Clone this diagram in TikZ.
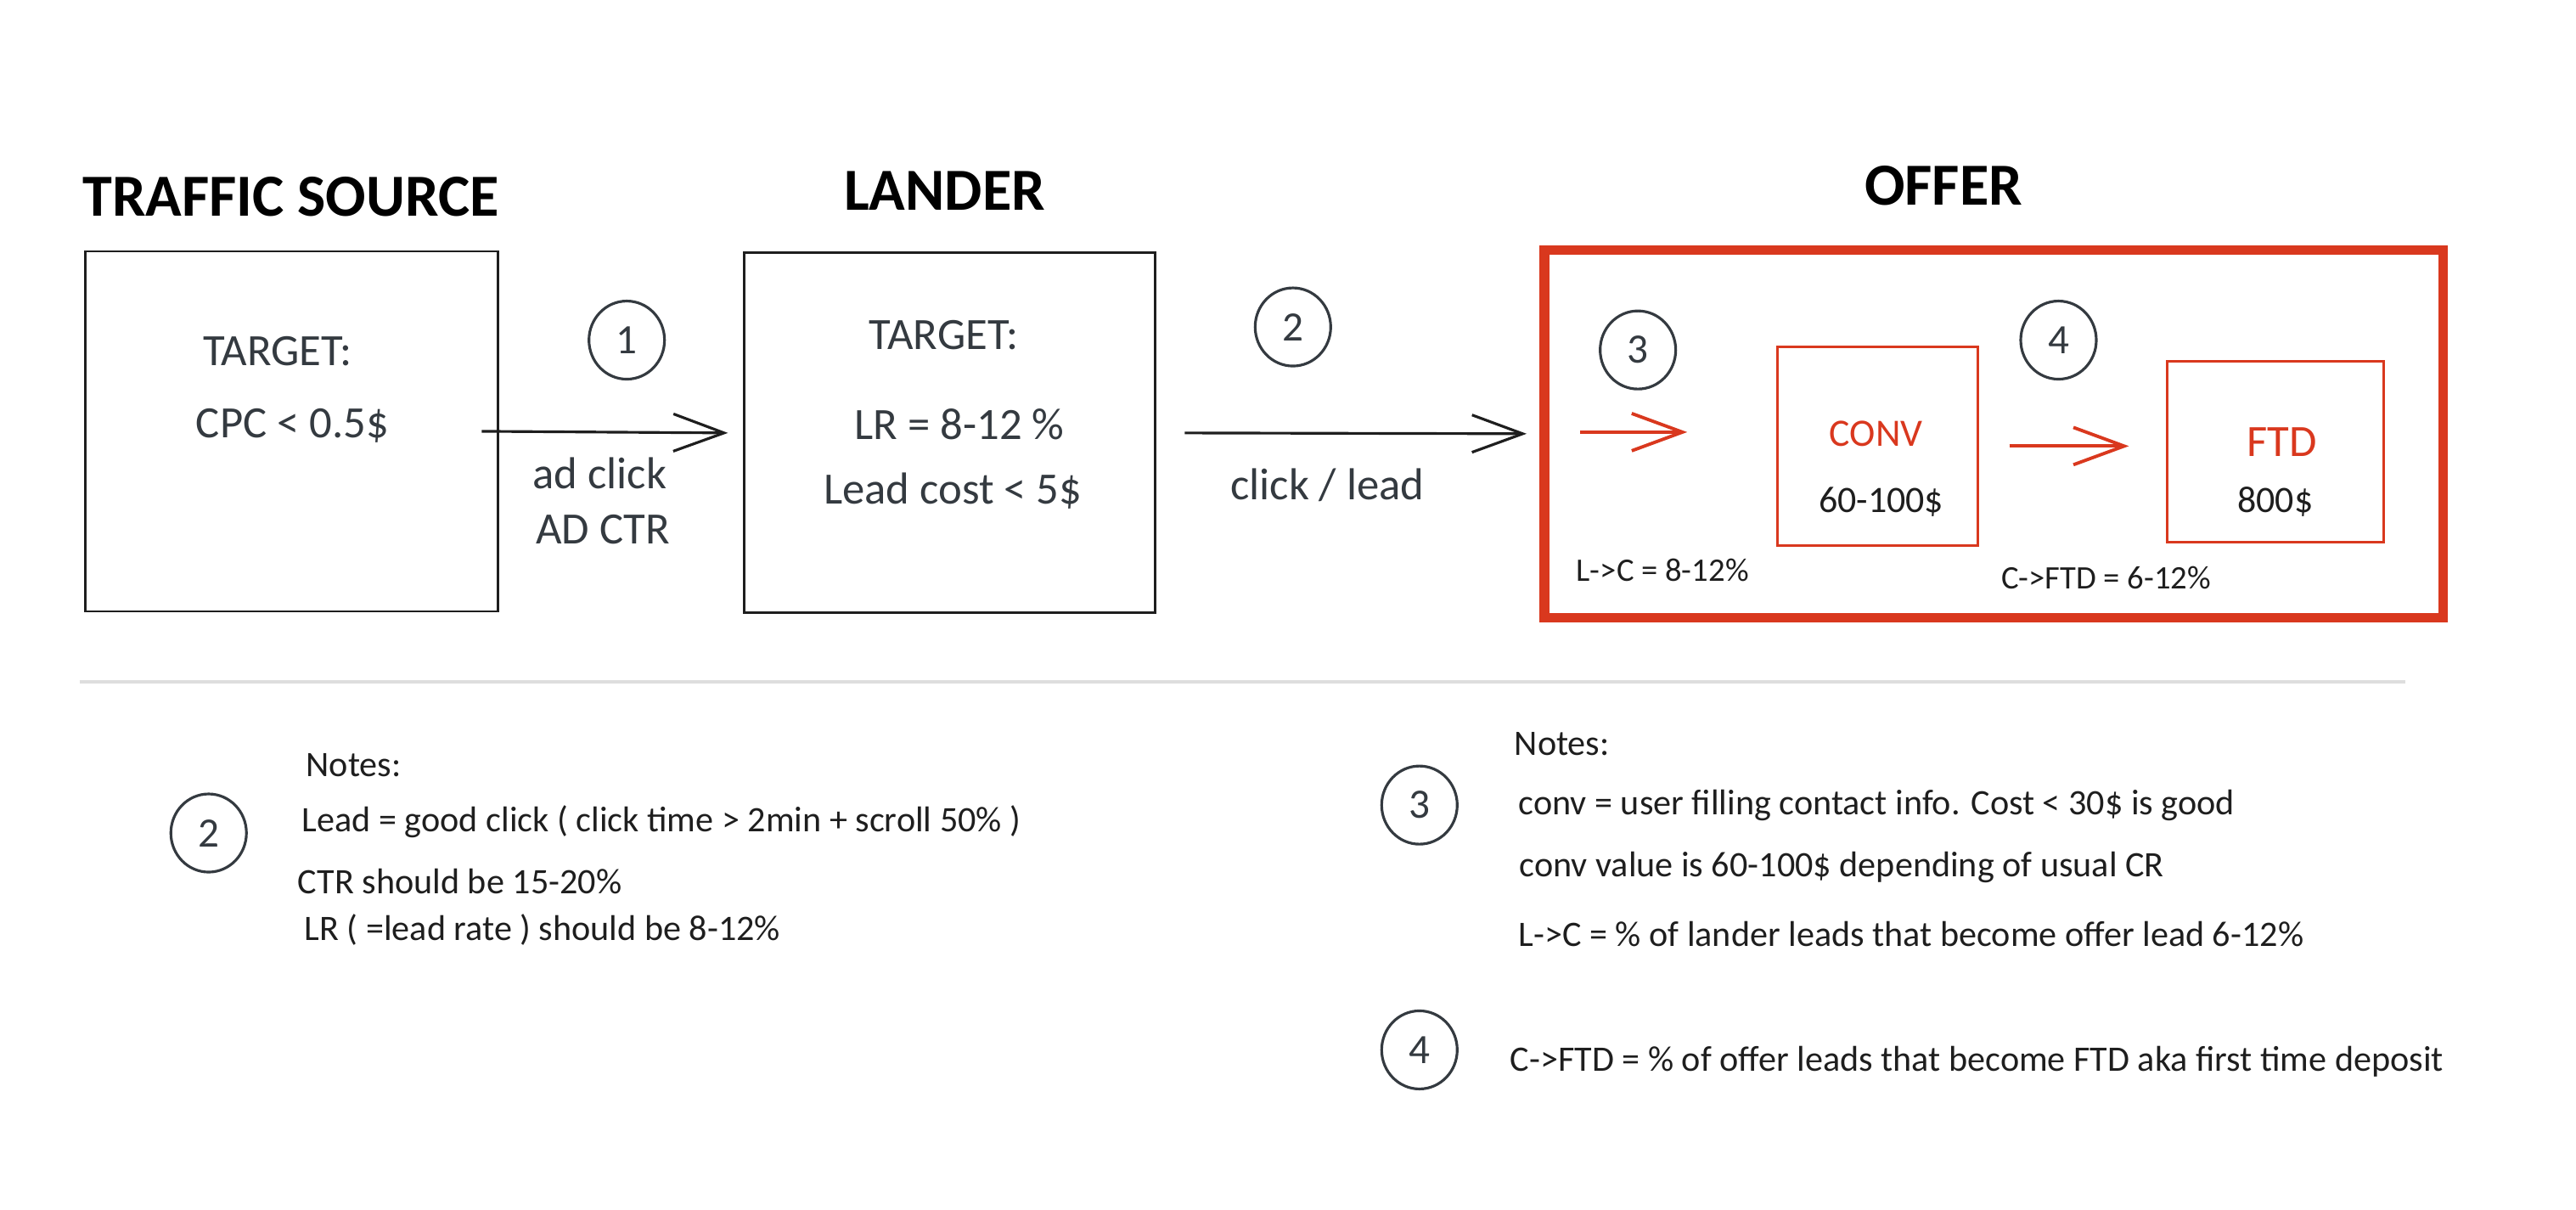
\documentclass[tikz,border=0pt]{standalone}
\usepackage{fontspec}
\setmainfont{Carlito}
\usetikzlibrary{arrows.meta}
\usetikzlibrary{shapes.geometric}
\definecolor{offerred}{HTML}{D9381E}
\definecolor{ink}{HTML}{1E1E1E}
\definecolor{pencil}{HTML}{343A40}
\definecolor{rulegray}{HTML}{DEDEDE}

\begin{document}
\begin{tikzpicture}[x=0.01935cm, y=-0.01935cm,
    >={Straight Barb[length=17pt,width=12.5pt]},
    title/.style={inner sep=0, text=black, font=\fontsize{20}{24}\selectfont\bfseries},
    big/.style={inner sep=0, text=pencil, font=\fontsize{15}{18}\selectfont},
    small/.style={inner sep=0, text=ink, font=\fontsize{12}{14}\selectfont},
    note/.style={inner sep=0, anchor=west, text=ink, font=\fontsize{12}{14}\selectfont},
    stage/.style={draw=ink, line width=0.8pt, inner sep=0, outer sep=0},
    offerbox/.style={draw=offerred, line width=3.2pt, inner sep=0, outer sep=0},
    subbox/.style={draw=offerred, line width=0.8pt, inner sep=0, outer sep=0},
    num/.style={ellipse, draw=pencil, line width=0.9pt, inner sep=0,
        minimum width=0.89cm, minimum height=0.92cm, text=pencil,
        font=\fontsize{14}{16}\selectfont},
    flow/.style={->, draw=ink, line width=0.9pt},
    redflow/.style={->, draw=offerred, line width=1.1pt}]

    \useasboundingbox (0,0) rectangle (1568,736);

    % titles
    \node[title] (srcTitle) at (177,120) {TRAFFIC SOURCE};
    \node[title] (landTitle) at (575,116) {LANDER};
    \node[title] (offTitle) at (1183,113) {OFFER};

    % boxes
    \node[stage, minimum width=4.86cm, minimum height=4.24cm] (source) at (177.5,262.5) {};
    \node[stage, minimum width=4.84cm, minimum height=4.24cm] (lander) at (578,263.5) {};
    \node[offerbox, minimum width=10.58cm, minimum height=4.33cm] (offer) at (1213.5,264) {};
    \node[subbox, minimum width=2.36cm, minimum height=2.34cm] (conv) at (1143,271.5) {};
    \node[subbox, minimum width=2.55cm, minimum height=2.13cm] (ftd) at (1385,275) {};

    \node[big] (srcTarget) at (169,214) {TARGET:};
    \node[big] (srcCpc) at (178,259) {CPC < 0.5\$};
    \node[big] (landTarget) at (574.5,204) {TARGET:};
    \node[big] (landLr) at (584,258) {LR = 8-12 \%};
    \node[big] (landCost) at (580,299) {Lead cost < 5\$};

    \node[big, text=offerred, font=\fontsize{13}{16}\selectfont] (convName) at (1142,264) {CONV};
    \node[small, font=\fontsize{12.5}{15}\selectfont] (convValue) at (1145,305.5) {60-100\$};
    \node[big, text=offerred] (ftdName) at (1389,269) {FTD};
    \node[small, font=\fontsize{12.5}{15}\selectfont] (ftdValue) at (1385,305.5) {800\$};
    \node[small, font=\fontsize{11}{13}\selectfont] (lcRate) at (1012,347) {L->C = 8-12\%};
    \node[small, font=\fontsize{11}{13}\selectfont] (cfRate) at (1282,351.5) {C->FTD = 6-12\%};

    % steps
    \node[num] (stepA) at (381.5,207) {1};
    \node[num] (stepB) at (787,199) {2};
    \node[num] (stepC) at (997,213) {3};
    \node[num] (stepD) at (1253,207) {4};

    \draw[flow] ([xshift=-0.19cm]source.east) -- ([xshift=-0.19cm]lander.west);
    \node[big] (adClick) at (365,288) {ad click};
    \node[big] (adCtr) at (367,322.5) {AD CTR};

    \draw[flow] ([xshift=0.35cm]lander.east) -- ([xshift=-0.21cm]offer.west);
    \node[big] (clickLead) at (808,295) {click / lead};

    \coordinate (entryL) at (962,263);
    \coordinate (entryR) at (1027,263);
    \draw[redflow] (entryL) -- (entryR);
    \draw[redflow] ([xshift=0.37cm]conv.east) -- ([xshift=-0.45cm]conv.east -| ftd.west);

    \draw[rulegray, line width=1.2pt] (48.5,415) -- (1464,415);

    % notes, left
    \node[num] (noteB) at (127,507) {2};
    \node[note] (notesL) at (186,465.5) {Notes:};
    \node[note] (noteLead) at (183.5,500) {Lead = good click ( click time > 2min + scroll 50\% )};
    \node[note] (noteCtr) at (181,536.5) {CTR should be 15-20\%};
    \node[note] (noteLr) at (185,566) {LR ( =lead rate ) should be 8-12\%};

    % notes, right
    \node[num] (noteC) at (864,490) {3};
    \node[num] (noteD) at (864,639) {4};
    \node[note] (notesR) at (921.5,453) {Notes:};
    \node[note] (noteConv) at (924,490) {conv = user filling contact info. Cost < 30\$ is good};
    \node[note] (noteValue) at (924.5,528) {conv value is 60-100\$ depending of usual CR};
    \node[note] (noteLc) at (924,568.5) {L->C = \% of lander leads that become offer lead 6-12\%};
    \node[note] (noteCf) at (919,646) {C->FTD = \% of offer leads that become FTD aka first time deposit};

\end{tikzpicture}
\end{document}
